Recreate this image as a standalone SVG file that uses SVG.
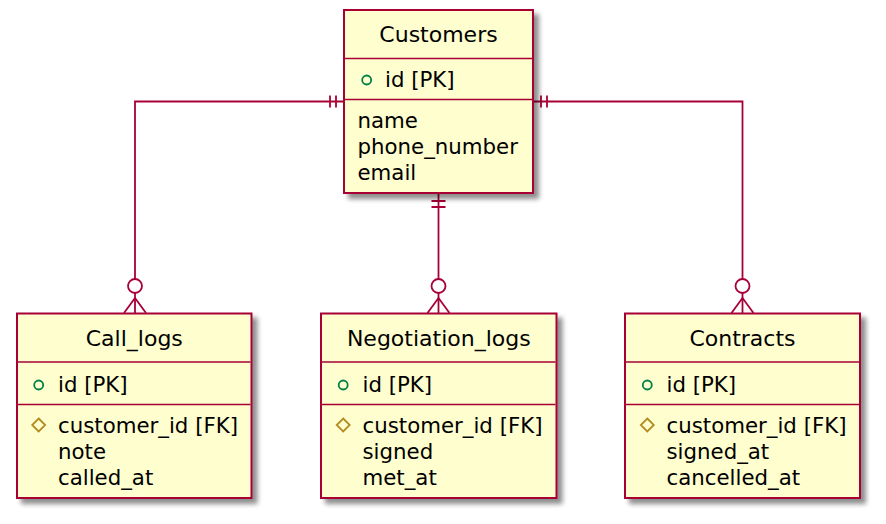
<svg xmlns="http://www.w3.org/2000/svg" width="886" height="524" viewBox="0 0 886 524">
<style>
.box{fill:#FEFECE;stroke:#A80036;stroke-width:2;filter:url(#sh)}
.sep{stroke:#A80036;stroke-width:1.5}
.title{font-family:"DejaVu Sans","Liberation Sans",sans-serif;font-size:22px;fill:#000;text-anchor:middle}
.txt{font-family:"DejaVu Sans","Liberation Sans",sans-serif;font-size:21.3px;fill:#000}
.pk{fill:none;stroke:#038048;stroke-width:1.8}
.fk{fill:none;stroke:#B38D22;stroke-width:1.8}
.ln{fill:none;stroke:#A80036;stroke-width:1.8}
.ring{fill:#FFFFFF;stroke:#A80036;stroke-width:1.8}
</style>
<defs>
<filter id="sh" x="-10%" y="-10%" width="130%" height="130%">
<feGaussianBlur in="SourceAlpha" stdDeviation="2.5"/>
<feOffset dx="5" dy="5" result="b"/>
<feComponentTransfer><feFuncA type="linear" slope="0.45"/></feComponentTransfer>
<feMerge><feMergeNode/><feMergeNode in="SourceGraphic"/></feMerge>
</filter>
</defs>
<rect width="886" height="524" fill="#FFFFFF"/>

<g id="connectors">
<path class="ln" d="M344,101.5 H135 V313"/>
<path class="ln" d="M330,95.5 V107.5 M336,95.5 V107.5"/>
<circle class="ring" cx="135" cy="286" r="7"/>
<path class="ln" d="M135,298 L124,313 M135,298 L146,313"/>
<path class="ln" d="M438.5,193 V313"/>
<path class="ln" d="M431.5,201 H445.5 M431.5,207 H445.5"/>
<circle class="ring" cx="438.5" cy="286" r="7"/>
<path class="ln" d="M438.5,298 L427.5,313 M438.5,298 L449.5,313"/>
<path class="ln" d="M533,101.5 H742.5 V313"/>
<path class="ln" d="M541,95.5 V107.5 M547,95.5 V107.5"/>
<circle class="ring" cx="742.5" cy="286" r="7"/>
<path class="ln" d="M742.5,298 L731.5,313 M742.5,298 L753.5,313"/>
</g>

<g id="Customers">
<rect class="box" x="344" y="10" width="189" height="183"/>
<text class="title" x="438.5" y="42">Customers</text>
<line class="sep" x1="345" y1="58.5" x2="532" y2="58.5"/>
<circle class="pk" cx="366.7" cy="80" r="4.5"/>
<text class="txt" x="385" y="87">id [PK]</text>
<line class="sep" x1="345" y1="99.5" x2="532" y2="99.5"/>
<text class="txt" x="357.5" y="128">name</text>
<text class="txt" x="357.5" y="154">phone_number</text>
<text class="txt" x="357.5" y="180">email</text>
</g>

<g id="Call_logs">
<rect class="box" x="17" y="313.5" width="234.5" height="184.5"/>
<text class="title" x="134.3" y="346">Call_logs</text>
<line class="sep" x1="18" y1="362" x2="250.5" y2="362"/>
<circle class="pk" cx="38.7" cy="385" r="4.5"/>
<text class="txt" x="58" y="392">id [PK]</text>
<line class="sep" x1="18" y1="404.5" x2="250.5" y2="404.5"/>
<path class="fk" d="M38.7,418.5 L45.2,425 L38.7,431.5 L32.2,425 Z"/>
<text class="txt" x="58" y="433">customer_id [FK]</text>
<text class="txt" x="58" y="459">note</text>
<text class="txt" x="58" y="485">called_at</text>
</g>

<g id="Negotiation_logs">
<rect class="box" x="321" y="313.5" width="235.5" height="184.5"/>
<text class="title" x="438.8" y="346">Negotiation_logs</text>
<line class="sep" x1="322" y1="362" x2="555.5" y2="362"/>
<circle class="pk" cx="343.2" cy="385" r="4.5"/>
<text class="txt" x="362.5" y="392">id [PK]</text>
<line class="sep" x1="322" y1="404.5" x2="555.5" y2="404.5"/>
<path class="fk" d="M343.2,418.5 L349.7,425 L343.2,431.5 L336.7,425 Z"/>
<text class="txt" x="362.5" y="433">customer_id [FK]</text>
<text class="txt" x="362.5" y="459">signed</text>
<text class="txt" x="362.5" y="485">met_at</text>
</g>

<g id="Contracts">
<rect class="box" x="625" y="313.5" width="235" height="184.5"/>
<text class="title" x="742.5" y="346">Contracts</text>
<line class="sep" x1="626" y1="362" x2="859" y2="362"/>
<circle class="pk" cx="647.3" cy="385" r="4.5"/>
<text class="txt" x="666.5" y="392">id [PK]</text>
<line class="sep" x1="626" y1="404.5" x2="859" y2="404.5"/>
<path class="fk" d="M647.3,418.5 L653.8,425 L647.3,431.5 L640.8,425 Z"/>
<text class="txt" x="666.5" y="433">customer_id [FK]</text>
<text class="txt" x="666.5" y="459">signed_at</text>
<text class="txt" x="666.5" y="485">cancelled_at</text>
</g>
</svg>
